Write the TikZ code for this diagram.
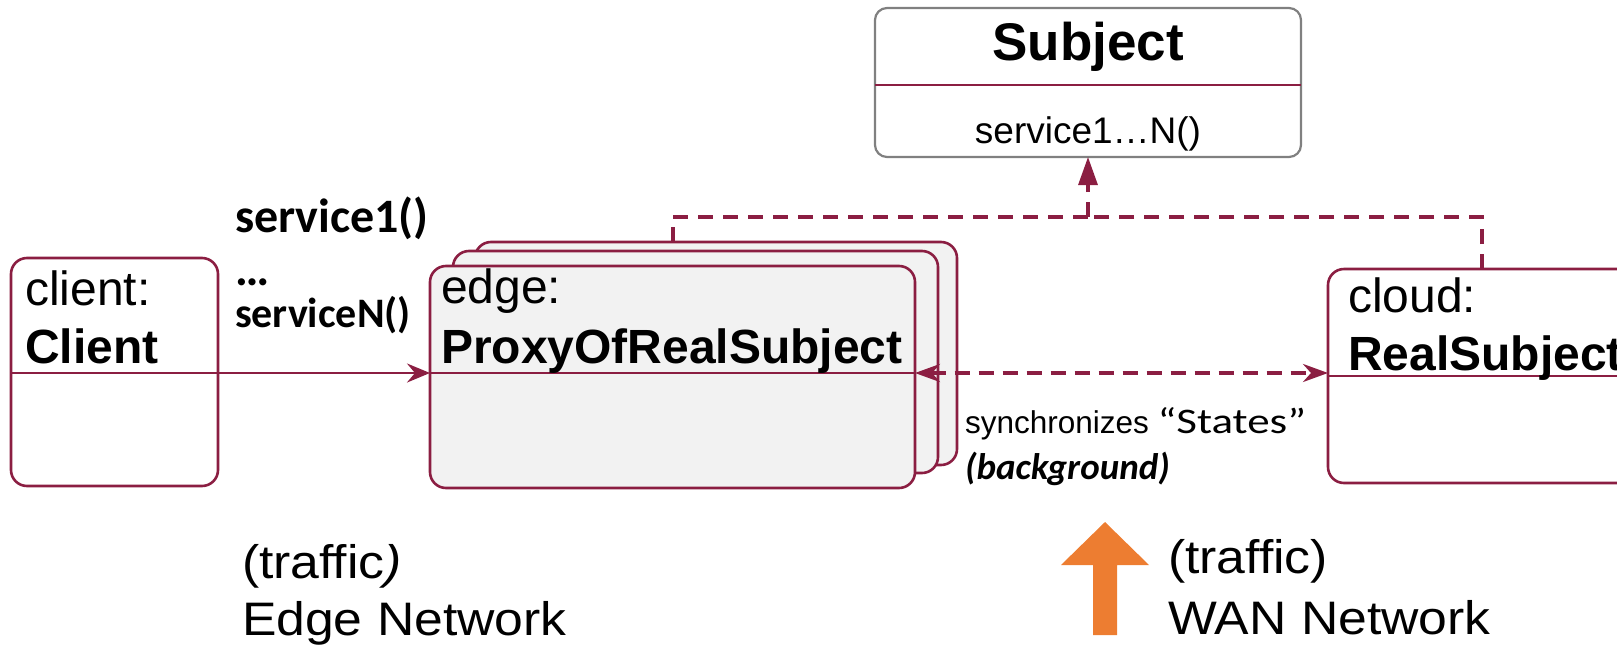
\documentclass[tikz,border=0pt]{standalone}
\usepackage{fontspec}
\setmainfont{Liberation Sans}
\newfontfamily\calib{Carlito}
\newfontfamily\calibwide[FakeStretch=1.25]{Carlito}
\newfontfamily\widesans[FakeStretch=1.1]{Liberation Sans}
\usetikzlibrary{arrows.meta}

\definecolor{umlred}{RGB}{139,30,66}
\definecolor{boxgray}{RGB}{128,128,128}
\definecolor{proxyfill}{RGB}{242,242,242}
\definecolor{trafficorange}{RGB}{237,125,49}

\newcommand\pxfont[1]{\fontsize{#1}{#1}\selectfont}

\tikzset{
  objbox/.style={draw=umlred, line width=2.6pt, rounded corners=16pt,
    anchor=north west, inner sep=0pt, outer sep=0pt},
  proxybox/.style={objbox, fill=proxyfill},
  classbox/.style={draw=boxgray, line width=2.2pt, rounded corners=12pt,
    anchor=north west, inner sep=0pt, outer sep=0pt, fill=white},
  divider/.style={draw=umlred, line width=2.4pt},
  label/.style={anchor=base west, inner sep=0pt, outer sep=0pt},
  centerlabel/.style={anchor=base, inner sep=0pt, outer sep=0pt},
  call/.style={draw=umlred, line width=2.8pt,
    -{Stealth[length=23pt,width=19pt,inset=8pt]}},
  sync/.style={draw=umlred, line width=3.2pt, dash pattern=on 15pt off 9pt,
    {Stealth[length=25pt,width=18pt,inset=8pt]}-{Stealth[length=25pt,width=18pt,inset=8pt]}},
  realize/.style={draw=umlred, line width=3.2pt, dash pattern=on 15pt off 10pt},
}

\begin{document}
\begin{tikzpicture}[x=1pt,y=-1pt]
\useasboundingbox (0,0) rectangle (1617,651);
\clip (0,0) rectangle (1617,651);

% interface class
\node[classbox, minimum width=426pt, minimum height=149pt] (subject) at (875,8) {};
\draw[divider] (subject.west |- 0,85) -- (subject.east |- 0,85);
\node[centerlabel] (subjtitle) at (1088,60) {\bfseries\pxfont{53}Subject};
\node[centerlabel] (subjops) at (1088,143) {\pxfont{37}service1…N()};

% client object
\node[objbox, minimum width=207pt, minimum height=228pt] (client) at (11,258) {};
\draw[divider] (client.west |- 0,373) -- (client.east |- 0,373);
\node[label] (clientrole) at (25,305) {\pxfont{48}client:};
\node[label] (clientname) at (25,363) {\bfseries\pxfont{48}Client};

% stacked proxy objects
\node[proxybox, minimum width=482pt, minimum height=223pt] (proxyC) at (475,242) {};
\node[proxybox, minimum width=485pt, minimum height=222pt] (proxyB) at (453,251) {};
\node[proxybox, minimum width=485pt, minimum height=222pt] (proxy) at (430,266) {};
\draw[divider] (proxy.west |- 0,373) -- (proxy.east |- 0,373);
\node[label] (proxyrole) at (441,303) {\pxfont{48}edge:};
\node[label] (proxyname) at (441,363) {\bfseries\pxfont{48}ProxyOfRealSubject};

% real subject object
\node[objbox, minimum width=372pt, minimum height=214pt] (cloud) at (1328,269) {};
\draw[divider] (cloud.west |- 0,376) -- (cloud.east |- 0,376);
\node[label] (cloudrole) at (1348,312) {\pxfont{48}cloud:};
\node[label] (cloudname) at (1348,370) {\bfseries\pxfont{48}RealSubject};

% calls from the client
\node[label] (svcfirst) at (235,232) {\calib\bfseries\pxfont{48}service1()};
\node[label] (svcdots) at (235,285) {\calib\bfseries\pxfont{48}…};
\node[label] (svclast) at (235,327) {\calib\bfseries\pxfont{42}serviceN()};
\draw[call] (client.east |- 0,373) -- (proxy.west |- 0,373);

% realization of the interface
\coordinate (join) at (1088,217);
\draw[realize] (proxyC.north -| 673,0) |- (join);
\draw[realize] (cloud.north -| 1482,0) |- (join);
\draw[realize, -{Triangle[length=28pt,width=19pt]}] (join) -- (subject.south);

% state synchronisation
\draw[sync] (proxy.east |- 0,373) -- (cloud.west |- 0,373);
\node[label] (syncnote) at (965,433) {\pxfont{31.5}synchronizes {\calibwide\pxfont{36}“States”}};
\node[label] (syncmode) at (965,479) {\calib\bfseries\itshape\pxfont{37}(background)};

% network traffic labels
\node[label] (edgetraffic) at (242,578) {\widesans\pxfont{47}(traffic{\itshape)}};
\node[label] (edgenet) at (242,635) {\widesans\pxfont{47}Edge Network};
\fill[trafficorange] (1093,635) -- (1093,565) -- (1061,565) -- (1105,522)
  -- (1149,565) -- (1117,565) -- (1117,635) -- cycle;
\node[label] (wantraffic) at (1168,573) {\widesans\pxfont{47}(traffic)};
\node[label] (wannet) at (1168,634) {\widesans\pxfont{47}WAN Network};
\end{tikzpicture}
\end{document}
